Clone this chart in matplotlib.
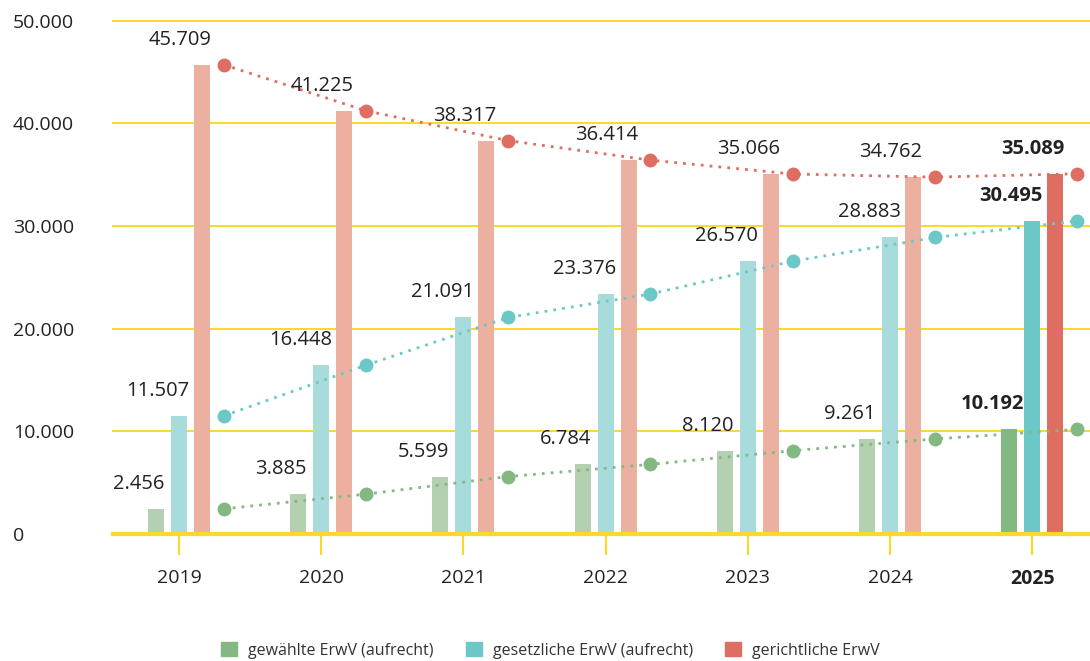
import matplotlib.pyplot as plt
from matplotlib.patches import Patch

plt.rcParams['font.family'] = ['Open Sans', 'DejaVu Sans']

years = ["2019", "2020", "2021", "2022", "2023", "2024", "2025"]
gewaehlt = [2456, 3885, 5599, 6784, 8120, 9261, 10192]
gesetzlich = [11507, 16448, 21091, 23376, 26570, 28883, 30495]
gerichtlich = [45709, 41225, 38317, 36414, 35066, 34762, 35089]
series_names = ["gewählte ErwV (aufrecht)", "gesetzliche ErwV (aufrecht)", "gerichtliche ErwV"]

col_full = ["#84b883", "#6bc8c6", "#de6d62"]
col_light = ["#b3d0b1", "#a8dcdc", "#ecb0a0"]
grid_col = "#fcd82b"

def fmt(v):
    return f"{v:,}".replace(",", ".")

fig = plt.figure(figsize=(10.9, 6.61), dpi=100)
ax = fig.add_axes([0.1037, 0.1921, 0.8963, 0.7766])

x = list(range(len(years)))
bw = 0.1125
offs = [-0.162, 0.0, 0.162]
lbl_offs = [-40, -21, 1]  # label x shift, px
mk_off = 0.315
last = len(years) - 1

for s, vals in enumerate([gewaehlt, gesetzlich, gerichtlich]):
    cols = [col_full[s] if i == last else col_light[s] for i in x]
    ax.bar([i + offs[s] for i in x], vals, width=bw, color=cols, zorder=2)
    ax.plot([i + mk_off for i in x], vals, color=col_full[s], linestyle=(0, (1, 2.2)),
            linewidth=2, marker="o", markersize=9, zorder=3)
    for i, v in enumerate(vals):
        ax.annotate(fmt(v), (i, v), xytext=(lbl_offs[s] * 0.72, 18), textcoords="offset points",
                    ha="center", va="center", fontsize=14.5, color="#222222",
                    fontweight="bold" if i == last else "normal", zorder=4)

ax.set_xlim(-0.464, 6.406)
ax.set_ylim(0, 50000)
ax.set_yticks([0, 10000, 20000, 30000, 40000, 50000])
ax.set_yticklabels([fmt(t) for t in [0, 10000, 20000, 30000, 40000, 50000]],
                   ha="left", fontsize=14, color="#222222")
ax.tick_params(axis="y", length=0, pad=72)
for t in ax.get_yticklabels():
    t.set_va("center_baseline")
ax.grid(axis="y", color=grid_col, linewidth=1.4, zorder=0)
for gl in ax.get_ygridlines():
    gl.set_clip_on(False)
ax.set_axisbelow(True)

ax.set_xticks(x)
ax.set_xticklabels(years, fontsize=14, color="#222222")
ax.get_xticklabels()[last].set_fontweight("bold")
ax.tick_params(axis="x", length=15, width=1.5, color=grid_col, pad=10)

for side in ["top", "right", "left"]:
    ax.spines[side].set_visible(False)
ax.spines["bottom"].set_color(grid_col)
ax.spines["bottom"].set_linewidth(3)
ax.spines["bottom"].set_zorder(5)

handles = [Patch(color=c, label=n) for c, n in zip(col_full, series_names)]
fig.legend(handles=handles, loc="lower center", bbox_to_anchor=(0.505, -0.018), ncol=3,
           frameon=False, handlelength=1.0, handleheight=1.0,
           handletextpad=0.7, columnspacing=2.0, fontsize=11.5, labelcolor="#333333")

fig.savefig("out.png", dpi=100)
